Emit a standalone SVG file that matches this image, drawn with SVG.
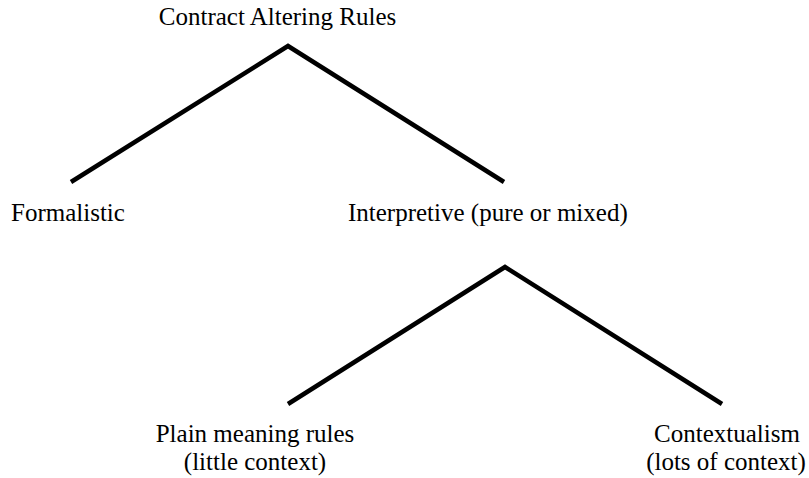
<svg xmlns="http://www.w3.org/2000/svg" width="809" height="478" viewBox="0 0 809 478">
<style>
text{font-family:"Liberation Serif","Times New Roman",serif;font-size:25px;fill:#000}
.c{stroke:#000;stroke-width:4.5;fill:none;stroke-linejoin:miter}
</style>
<rect width="809" height="478" fill="#fff"/>
<g id="connectors">
<polyline class="c" points="71,182 288,46 504,182"/>
<polyline class="c" points="288,404 505,267 722,404"/>
</g>
<g id="root"><text x="277.5" y="25" text-anchor="middle">Contract Altering Rules</text></g>
<g id="formalistic"><text x="11" y="221">Formalistic</text></g>
<g id="interpretive"><text x="348" y="221">Interpretive (pure or mixed)</text></g>
<g id="plain"><text x="255" y="442" text-anchor="middle">Plain meaning rules</text><text x="255" y="470" text-anchor="middle">(little context)</text></g>
<g id="contextualism"><text x="727" y="442" text-anchor="middle">Contextualism</text><text x="726" y="470" text-anchor="middle">(lots of context)</text></g>
</svg>
